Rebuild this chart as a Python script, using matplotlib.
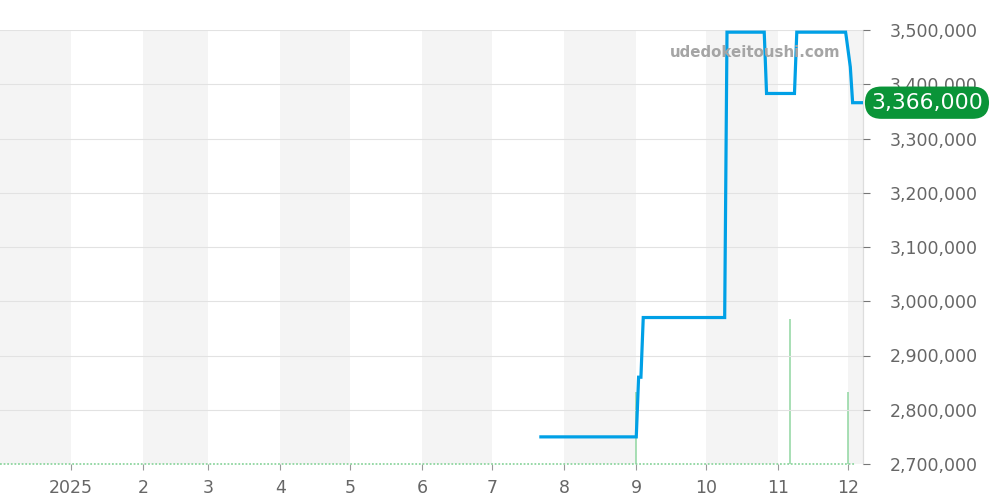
import numpy as np
import pandas as pd
import matplotlib
matplotlib.use("Agg")
import matplotlib.pyplot as plt
import matplotlib.dates as mdates
from matplotlib.ticker import FuncFormatter, FixedLocator

# price history (yen)
price_dates = ["2025-07-22", "2025-09-01", "2025-09-02", "2025-09-03", "2025-09-04",
               "2025-10-09", "2025-10-10", "2025-10-26", "2025-10-27", "2025-11-08",
               "2025-11-09", "2025-11-30", "2025-12-02", "2025-12-03", "2025-12-07"]
price_values = [2750000, 2750000, 2860000, 2860000, 2970000,
                2970000, 3496000, 3496000, 3383000, 3383000,
                3496000, 3496000, 3432000, 3366000, 3366000]

# listings / volume
vol_dates = ["2025-09-01", "2025-11-06", "2025-12-01"]
vol_values = [1, 2, 1]

month_starts = ["2024-12-01", "2025-01-01", "2025-02-01", "2025-03-01", "2025-04-01",
                "2025-05-01", "2025-06-01", "2025-07-01", "2025-08-01", "2025-09-01",
                "2025-10-01", "2025-11-01", "2025-12-01", "2026-01-01"]
tick_labels = ["2025", "2", "3", "4", "5", "6", "7", "8", "9", "10", "11", "12"]
y_ticks = [2700000, 2800000, 2900000, 3000000, 3100000, 3200000, 3300000, 3400000, 3500000]

last_price = price_values[-1]

x_start = pd.Timestamp("2024-12-01 12:00")
x_end = pd.Timestamp("2025-12-07 11:00")

pd_dates = pd.to_datetime(price_dates)
vd_dates = pd.to_datetime(vol_dates)
months = pd.to_datetime(month_starts)

fig = plt.figure(figsize=(10, 5), dpi=100)
ax = fig.add_axes([0.0, 0.072, 0.863, 0.868])
ax2 = ax.twinx()

# alternating month shading
for i in range(0, len(months) - 1, 2):
    ax.axvspan(months[i], months[i + 1], color="#f4f4f4", lw=0, zorder=0)

# volume bars + dotted baseline
ax.vlines(vd_dates, 0, vol_values, color="#8fd6a0", lw=1.1, zorder=2)
ax.plot([x_start, pd.Timestamp("2025-12-04")], [0, 0], color="#8fd6a0",
        lw=1.3, ls=(0, (1, 1)), zorder=2, clip_on=False)
ax.set_ylim(0, 6)
ax.set_yticks([])

# price line
ax2.plot(pd_dates, price_values, color="#00a0e6", lw=2.3, zorder=3,
         solid_joinstyle="miter")
ax2.set_ylim(2700000, 3500000)
ax2.yaxis.set_major_locator(FixedLocator(y_ticks))
ax2.yaxis.set_major_formatter(FuncFormatter(lambda v, p: f"{v:,.0f}"))
ax2.grid(axis="y", color="#e2e2e2", lw=0.8)
ax2.set_axisbelow(False)
ax2.tick_params(axis="y", length=5, width=0.8, color="#777", pad=14,
                labelsize=12.5, labelcolor="#666")

ax.set_xlim(x_start, x_end)
ax.xaxis.set_major_locator(FixedLocator(mdates.date2num(months[1:13])))
ax.set_xticklabels(tick_labels)
ax.tick_params(axis="x", length=4, width=0.8, color="#999", pad=7,
               labelsize=12.5, labelcolor="#666")

# bottom gridline would hide the dotted volume baseline
fig.canvas.draw()
ax2.yaxis.get_gridlines()[0].set_visible(False)

for a in (ax, ax2):
    for s in ("top", "left", "bottom"):
        a.spines[s].set_visible(False)
    a.spines["right"].set_color("#dddddd")
    a.spines["right"].set_linewidth(0.8)

# watermark
ax2.text(0.875, 0.949, "udedokeitoushi.com", transform=ax2.transAxes,
         ha="center", va="center", fontsize=10.8, fontweight="bold", color="#a5a5a5")

# last price badge
ax2.text(1.0093, last_price, f"{last_price:,}",
         transform=ax2.get_yaxis_transform(), ha="left", va="center",
         fontsize=15.8, color="white", zorder=10, clip_on=False,
         bbox=dict(boxstyle="round,pad=0.28,rounding_size=0.75",
                   fc="#0a9438", ec="none"))

fig.savefig("out.png", dpi=100)
